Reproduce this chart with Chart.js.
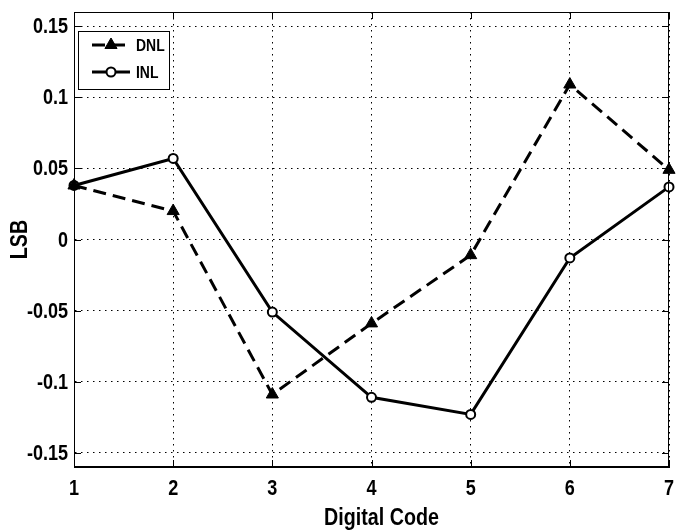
<!DOCTYPE html>
<html>
<head>
<meta charset="utf-8">
<script src="https://cdn.jsdelivr.net/npm/chart.js@4/dist/chart.umd.min.js"></script>
<style>
  html, body { margin: 0; padding: 0; background: #fff; }
  #wrap { width: 677px; height: 530px; }
</style>
</head>
<body>
<div id="wrap"><canvas id="c" width="677" height="530"></canvas></div>
<script>
// Digital codes on the x axis
const codes = [1, 2, 3, 4, 5, 6, 7];
// Differential and integral nonlinearity per code, in LSB
const dnl = [0.038, 0.020, -0.109, -0.059, -0.011, 0.109, 0.049];
const inl = [0.038, 0.057, -0.051, -0.111, -0.123, -0.013, 0.037];
// Axis ticks
const xTickLabels = ['1', '2', '3', '4', '5', '6', '7'];
const yTickValues = [-0.15, -0.1, -0.05, 0, 0.05, 0.1, 0.15];
const yTickLabels = ['-0.15', '-0.1', '-0.05', '0', '0.05', '0.1', '0.15'];
const xTitle = 'Digital Code';
const yTitle = 'LSB';

// Bold sans squeezed horizontally to get a narrow face
const FAMILY = '"Liberation Sans", Arial, sans-serif';
const NARROW = 0.82;

function narrowText(ctx, text, x, y, size, align, baseline, angle) {
  ctx.save();
  ctx.translate(x, y);
  if (angle) ctx.rotate(angle);
  ctx.scale(NARROW, 1);
  ctx.font = 'bold ' + size + 'px ' + FAMILY;
  ctx.textAlign = align;
  ctx.textBaseline = baseline;
  ctx.fillStyle = '#000';
  ctx.fillText(text, 0, 0);
  ctx.restore();
}

// Box around the axes with inward tick marks on all four sides
const framePlugin = {
  id: 'frame',
  afterDatasetsDraw(chart) {
    const { ctx, chartArea: a, scales } = chart;
    const len = 7;
    ctx.save();
    ctx.strokeStyle = '#000';
    ctx.lineWidth = 1;
    ctx.setLineDash([]);
    ctx.strokeRect(a.left + 0.5, a.top + 0.5, a.right - a.left - 1, a.bottom - a.top - 1);
    ctx.beginPath();
    scales.y.ticks.forEach(t => {
      const y = Math.round(scales.y.getPixelForValue(t.value)) + 0.5;
      ctx.moveTo(a.left, y); ctx.lineTo(a.left + len, y);
      ctx.moveTo(a.right, y); ctx.lineTo(a.right - len, y);
    });
    scales.x.ticks.forEach(t => {
      const x = Math.round(scales.x.getPixelForValue(t.value)) + 0.5;
      ctx.moveTo(x, a.bottom); ctx.lineTo(x, a.bottom - len);
      ctx.moveTo(x, a.top); ctx.lineTo(x, a.top + len);
    });
    ctx.stroke();
    ctx.restore();
  }
};

// Tick labels and axis titles in the narrow bold face
const axisTextPlugin = {
  id: 'axisText',
  afterDraw(chart) {
    const { ctx, chartArea: a, scales } = chart;
    scales.x.ticks.forEach((t, i) => {
      narrowText(ctx, xTickLabels[i], scales.x.getPixelForValue(t.value), a.bottom + 28, 22, 'center', 'alphabetic');
    });
    scales.y.ticks.forEach((t, i) => {
      narrowText(ctx, yTickLabels[i], a.left - 6, scales.y.getPixelForValue(t.value) + 1, 22, 'right', 'middle');
    });
    narrowText(ctx, xTitle, (a.left + a.right) / 2 + 10, a.bottom + 58, 24, 'center', 'alphabetic');
    narrowText(ctx, yTitle, 27, (a.top + a.bottom) / 2, 24, 'center', 'alphabetic', -Math.PI / 2);
  }
};

// Legend box in the upper-left corner of the axes
const legendBoxPlugin = {
  id: 'legendBox',
  afterDraw(chart) {
    const { ctx, chartArea: a } = chart;
    const bx = a.left + 4, by = a.top + 19, bw = 91, bh = 58;
    ctx.save();
    ctx.fillStyle = '#fff';
    ctx.fillRect(bx, by, bw, bh);
    ctx.strokeStyle = '#000';
    ctx.lineWidth = 1;
    ctx.strokeRect(bx + 0.5, by + 0.5, bw, bh);
    const rows = [by + 14, by + 41];
    chart.data.datasets.forEach((ds, i) => {
      const y = rows[i];
      ctx.strokeStyle = ds.borderColor;
      ctx.lineWidth = ds.borderWidth;
      ctx.setLineDash(ds.borderDash || []);
      ctx.beginPath();
      ctx.moveTo(a.left + 18, y);
      ctx.lineTo(a.left + 56, y);
      ctx.stroke();
      ctx.setLineDash([]);
      ctx.fillStyle = ds.pointBackgroundColor;
      ctx.strokeStyle = ds.pointBorderColor;
      ctx.lineWidth = ds.pointBorderWidth;
      Chart.helpers.drawPoint(ctx, {
        pointStyle: ds.pointStyle, radius: ds.pointRadius,
        borderWidth: ds.pointBorderWidth, rotation: 0
      }, a.left + 37, y);
      narrowText(ctx, ds.label, a.left + 62, y + 1, 17, 'left', 'middle');
    });
    ctx.restore();
  }
};

new Chart(document.getElementById('c'), {
  type: 'line',
  data: {
    datasets: [
      {
        label: 'DNL',
        data: codes.map((c, i) => ({ x: c, y: dnl[i] })),
        borderColor: '#000',
        borderWidth: 3,
        borderDash: [13, 7],
        pointStyle: 'triangle',
        pointRadius: 7,
        pointBackgroundColor: '#000',
        pointBorderColor: '#000',
        pointBorderWidth: 1,
        tension: 0,
        clip: 10
      },
      {
        label: 'INL',
        data: codes.map((c, i) => ({ x: c, y: inl[i] })),
        borderColor: '#000',
        borderWidth: 3,
        pointStyle: 'circle',
        pointRadius: 4.5,
        pointBackgroundColor: '#fff',
        pointBorderColor: '#000',
        pointBorderWidth: 2,
        tension: 0,
        clip: 10
      }
    ]
  },
  options: {
    responsive: false,
    animation: false,
    devicePixelRatio: 1,
    layout: { padding: { top: 12, right: 2, left: 0, bottom: 0 } },
    plugins: {
      legend: { display: false },
      tooltip: { enabled: false }
    },
    scales: {
      x: {
        type: 'linear',
        min: 1,
        max: 7,
        afterBuildTicks: s => { s.ticks = codes.map(v => ({ value: v })); },
        afterFit: s => { s.height = 63; s.paddingLeft = 0; s.paddingRight = 0; },
        ticks: { display: false, autoSkip: false, maxRotation: 0 },
        grid: { color: '#000', lineWidth: 1, drawTicks: false, tickLength: 0 },
        border: { display: true, color: '#000', width: 1, dash: [1.5, 4.5] },
        title: { display: false }
      },
      y: {
        min: -0.16,
        max: 0.16,
        afterBuildTicks: s => { s.ticks = yTickValues.map(v => ({ value: v })); },
        afterFit: s => { s.width = 74; s.paddingTop = 0; s.paddingBottom = 0; },
        ticks: { display: false },
        grid: { color: '#000', lineWidth: 1, drawTicks: false, tickLength: 0 },
        border: { display: true, color: '#000', width: 1, dash: [1.5, 4.5] },
        title: { display: false }
      }
    }
  },
  plugins: [framePlugin, axisTextPlugin, legendBoxPlugin]
});
</script>
</body>
</html>
